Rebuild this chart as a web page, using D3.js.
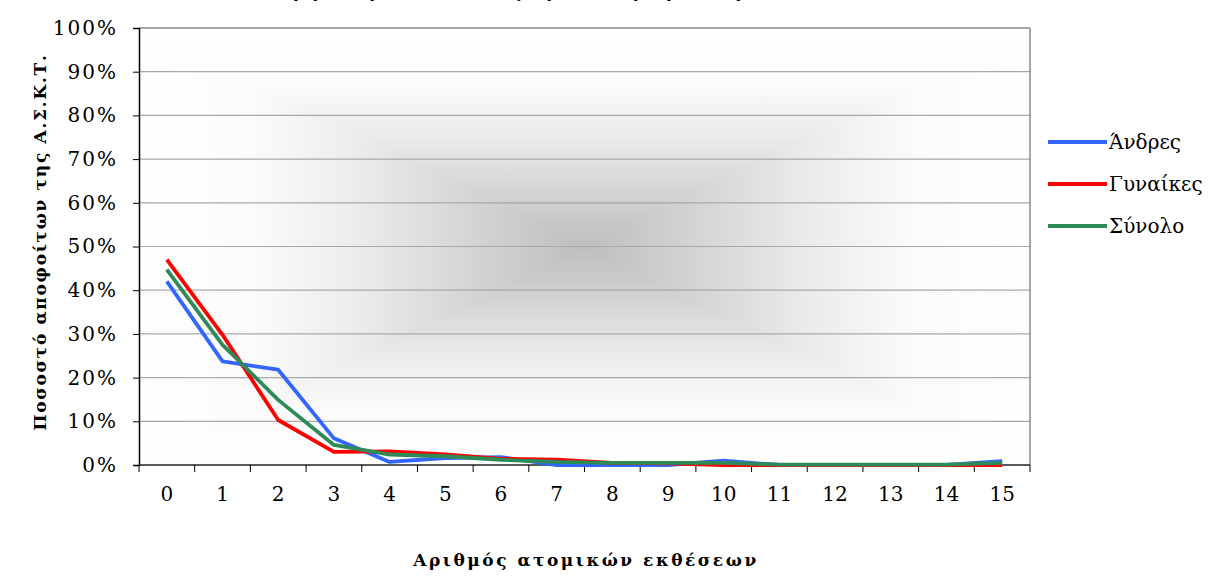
<!DOCTYPE html>
<html>
<head>
<meta charset="utf-8">
<script src="https://cdn.jsdelivr.net/npm/d3@7"></script>
<style>
  html, body { margin: 0; padding: 0; background: #fff; }
  svg { display: block; }
  svg text { font-family: "DejaVu Serif", "Liberation Serif", serif; fill: #000; }
</style>
</head>
<body>
<svg id="chart" width="1216" height="577"></svg>
<script>
const categories = ["0","1","2","3","4","5","6","7","8","9","10","11","12","13","14","15"];
const andres   = [42.0, 23.7, 21.8, 6.1, 0.7, 1.6, 1.8, 0.0, 0.0, 0.0, 1.0, 0.0, 0.0, 0.0, 0.0, 0.9];
const gynaikes = [47.0, 29.8, 10.3, 3.0, 3.1, 2.4, 1.4, 1.2, 0.5, 0.4, 0.0, 0.0, 0.0, 0.0, 0.0, 0.0];
const synolo   = [44.7, 27.5, 14.9, 4.6, 2.4, 2.0, 1.2, 0.7, 0.5, 0.5, 0.5, 0.1, 0.1, 0.1, 0.1, 0.5];
const seriesNames = ["Άνδρες", "Γυναίκες", "Σύνολο"];
const seriesColors = ["#3366ff", "#ff0000", "#2e8b57"];
const yTicks = [0,10,20,30,40,50,60,70,80,90,100];
const titleText = "Κατανομή αποφοίτων ανάλογα με τον αριθμό ατομικών εκθέσεων";
const xTitle = "Αριθμός ατομικών εκθέσεων";
const yTitle = "Ποσοστό αποφοίτων της Α.Σ.Κ.Τ.";

const FONT = '"DejaVu Serif", "Liberation Serif", serif';
const svg = d3.select("#chart");
const L = 139, R = 1030, T = 28, B = 465;
const W = R - L, H = B - T;

const x = d3.scaleBand().domain(categories).range([L, R]);
const y = d3.scaleLinear().domain([0, 100]).range([B, T]);

// background gradient (rectangular, from center)
const defs = svg.append("defs");
const stops = [[0, "#ffffff"], [0.25, "#fbfbfb"], [0.5, "#ebebeb"], [0.75, "#d4d4d4"], [1, "#bebebe"]];
function grad(id, x1, y1, x2, y2) {
  const g = defs.append("linearGradient").attr("id", id).attr("gradientUnits", "userSpaceOnUse")
    .attr("x1", x1).attr("y1", y1).attr("x2", x2).attr("y2", y2);
  stops.forEach(s => g.append("stop").attr("offset", s[0]).attr("stop-color", s[1]));
}
const cx = L + W / 2, cy = T + H / 2;
grad("gTop", 0, T, 0, cy);
grad("gBot", 0, B, 0, cy);
grad("gLeft", L, 0, cx, 0);
grad("gRight", R, 0, cx, 0);
const bg = svg.append("g");
[["gTop", `${L},${T} ${R},${T} ${cx},${cy}`],
 ["gBot", `${L},${B} ${R},${B} ${cx},${cy}`],
 ["gLeft", `${L},${T} ${L},${B} ${cx},${cy}`],
 ["gRight", `${R},${T} ${R},${B} ${cx},${cy}`]].forEach(p => {
  bg.append("polygon").attr("points", p[1]).attr("fill", `url(#${p[0]})`)
    .attr("stroke", `url(#${p[0]})`).attr("stroke-width", 1.2).attr("stroke-linejoin", "round");
});

// gridlines
svg.append("g").selectAll("line").data(yTicks.filter(d => d > 0 && d < 100)).join("line")
  .attr("x1", L).attr("x2", R).attr("y1", d => y(d)).attr("y2", d => y(d))
  .attr("stroke", "#a8a8a8").attr("stroke-width", 1.2);

// plot border top/right
svg.append("line").attr("x1", L).attr("x2", R).attr("y1", T).attr("y2", T).attr("stroke", "#888").attr("stroke-width", 1.5);
svg.append("line").attr("x1", R).attr("x2", R).attr("y1", T).attr("y2", B).attr("stroke", "#888").attr("stroke-width", 1.5);

// y axis
const yAxis = d3.axisLeft(y).tickValues(yTicks).tickFormat(d => d + "%").tickSize(6).tickPadding(15);
const yg = svg.append("g").attr("transform", `translate(${L},0)`).call(yAxis);
yg.attr("font-family", FONT);
yg.select(".domain").attr("stroke", "#000").attr("stroke-width", 1.5);
yg.selectAll(".tick line").attr("stroke", "#000");
yg.selectAll(".tick text").style("font-size", "20px").style("font-family", FONT).attr("letter-spacing", "2px");

// x axis
const xg = svg.append("g").attr("transform", `translate(0,${B})`);
xg.append("line").attr("x1", L).attr("x2", R).attr("y1", 0).attr("y2", 0).attr("stroke", "#222").attr("stroke-width", 1.5);
const bounds = categories.map(c => x(c)).concat([R]);
xg.selectAll("line.tk").data(bounds).join("line").attr("class", "tk")
  .attr("x1", d => d).attr("x2", d => d).attr("y1", 0).attr("y2", 7).attr("stroke", "#000");
xg.selectAll("text").data(categories).join("text")
  .attr("x", d => x(d) + x.bandwidth() / 2).attr("y", 36)
  .attr("text-anchor", "middle").style("font-size", "20px").style("font-family", FONT)
  .text(d => d);

// lines
const allSeries = [andres, gynaikes, synolo];
const line = d3.line().x((d, i) => x(categories[i]) + x.bandwidth() / 2).y(d => y(d));
allSeries.forEach((s, k) => {
  svg.append("path").datum(s).attr("d", line).attr("fill", "none")
    .attr("stroke", seriesColors[k]).attr("stroke-width", 3.8)
    .attr("stroke-linejoin", "round").attr("stroke-linecap", "butt");
});

// legend
const lg = svg.append("g");
seriesNames.forEach((n, k) => {
  const ly = 142 + k * 42;
  lg.append("line").attr("x1", 1048).attr("x2", 1107).attr("y1", ly).attr("y2", ly)
    .attr("stroke", seriesColors[k]).attr("stroke-width", 3.8);
  lg.append("text").attr("x", 1109).attr("y", ly + 7).style("font-size", "20px").style("font-family", FONT).text(n);
});

// titles
svg.append("text").attr("x", 560).attr("y", -3).attr("text-anchor", "middle")
  .style("font-size", "18px").style("font-weight", "bold").style("font-family", FONT).text(titleText);
svg.append("text").attr("x", 586).attr("y", 566).attr("text-anchor", "middle")
  .style("font-size", "17px").style("font-weight", "bold").style("font-family", FONT)
  .attr("letter-spacing", "2.5px").text(xTitle);
svg.append("text").attr("transform", "translate(46,242) rotate(-90)").attr("text-anchor", "middle")
  .style("font-size", "17px").style("font-weight", "bold").style("font-family", FONT)
  .attr("letter-spacing", "1.7px").text(yTitle);
</script>
</body>
</html>
